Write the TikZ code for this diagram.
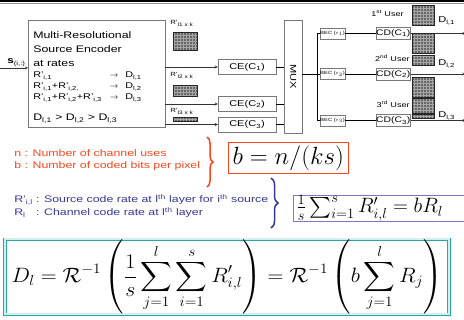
\documentclass[tikz,border=0pt]{standalone}
\usepackage[no-math]{fontspec}
\setmainfont{Liberation Sans}[FakeStretch=1.3]
\usepackage{amsmath}
\usepackage{graphicx}
\usepackage{tikz}
\usetikzlibrary{arrows,shapes,positioning,patterns,decorations.pathreplacing}
\usepackage{xcolor}
\definecolor{mrgray}{RGB}{120,120,120}
\definecolor{mrred}{RGB}{250,70,30}
\definecolor{mrblue}{RGB}{55,55,150}
\definecolor{mrlavender}{RGB}{120,120,200}
\definecolor{mrteal}{RGB}{40,165,165}
\tikzstyle{arrow} = [thin,->,>=stealth,color=black!80]
\tikzstyle{blockbox} = [rectangle, draw=mrgray, fill=white, inner sep=0pt, thin]
\tikzstyle{layerimg} = [rectangle, draw=black!85, inner sep=0pt, preaction={fill=black!60}, pattern=grid, pattern color=black!35]

\begin{document}
\begin{tikzpicture}[x=1pt, y=-1pt, line width=0.6pt]
\useasboundingbox (0,0) rectangle (464,320);

% top rule
\draw[line width=2pt] (0,1) -- (464,1);
\draw[black!45] (0,3.5) -- (464,3.5);

% source encoder
\node[blockbox, minimum width=137pt, minimum height=107pt, anchor=north west] (enc) at (28,20) {};
\node[anchor=north west, align=left, inner sep=0pt, font=\fontsize{9.5}{13.8}\selectfont] (enctitle) at (33,31.7) {Multi-Resolutional\\Source Encoder\\at rates};
\node[anchor=base west, inner sep=0pt, font=\fontsize{8.3}{11}\selectfont] (rates) at (33,78) {%
\begin{tabular}[t]{@{}l@{\hspace{8pt}}l@{\hspace{7pt}}l@{}}
R'\textsubscript{i,1} & $\rightarrow$ & D\textsubscript{l,1}\\
R'\textsubscript{i,1}+R'\textsubscript{i,2,} & $\rightarrow$ & D\textsubscript{l,2}\\
R'\textsubscript{i,1}+R'\textsubscript{i,2}+R'\textsubscript{i,3} & $\rightarrow$ & D\textsubscript{l,3}
\end{tabular}};
\node[anchor=base west, inner sep=0pt, font=\fontsize{9.5}{11}\selectfont] (order) at (33,121) {D\textsubscript{l,1} > D\textsubscript{l,2} > D\textsubscript{l,3}};

\coordinate (src) at (0,68);
\node[anchor=base west, inner sep=0pt, font=\fontsize{9}{11}\selectfont] (srclab) at (7,64) {\textbf{s}\textsubscript{(i,:)}};
\draw[arrow] (src) -- (src -| enc.west);

% layers leaving the encoder
\node[anchor=base west, inner sep=0pt, font=\fontsize{6}{7}\selectfont] (lab1) at (170,25) {R'\textsubscript{l1 x k}};
\node[layerimg, minimum width=24pt, minimum height=18pt, anchor=north west] (img1) at (173,32) {};
\node[anchor=base west, inner sep=0pt, font=\fontsize{6}{7}\selectfont] (lab2) at (170,77) {R'\textsubscript{l2 x k}};
\node[layerimg, minimum width=24pt, minimum height=11pt, anchor=north west] (img2) at (173,85) {};
\node[anchor=base west, inner sep=0pt, font=\fontsize{6}{7}\selectfont] (lab3) at (170,113) {R'\textsubscript{l3 x k}};
\node[layerimg, minimum width=24pt, minimum height=4pt, anchor=north west] (img3) at (173,117) {};

\node[blockbox, minimum width=58pt, minimum height=15pt, font=\fontsize{8.5}{10}\selectfont] (ce1) at (247,67) {CE(C\textsubscript{1})};
\node[blockbox, minimum width=58pt, minimum height=15pt, font=\fontsize{8.5}{10}\selectfont] (ce2) at (247,104) {CE(C\textsubscript{2})};
\node[blockbox, minimum width=58pt, minimum height=15pt, font=\fontsize{8.5}{10}\selectfont] (ce3) at (247,124.5) {CE(C\textsubscript{3})};
\draw[arrow] (enc.east |- ce1) -- (ce1);
\draw[arrow] (enc.east |- ce2) -- (ce2);
\draw[arrow] (enc.east |- ce3) -- (ce3);

% multiplexer and channels
\node[blockbox, minimum width=18pt, minimum height=113pt, anchor=north west] (mux) at (284,20) {};
\node[rotate=-90, inner sep=0pt, font=\fontsize{8.5}{10}\selectfont] (muxlab) at (mux) {MUX};
\draw (ce1) -- (ce1 -| mux.west);
\draw (ce2) -- (ce2 -| mux.west);
\draw (ce3) -- (ce3 -| mux.west);

\node[blockbox, minimum width=19pt, minimum height=11pt, font=\fontsize{4.5}{5}\selectfont] (bec1) at (332.5,33.5) {BEC ($\epsilon_1$)};
\node[blockbox, minimum width=19pt, minimum height=11pt, font=\fontsize{4.5}{5}\selectfont] (bec2) at (332.5,74) {BEC ($\epsilon_2$)};
\node[blockbox, minimum width=19pt, minimum height=11pt, font=\fontsize{4.5}{5}\selectfont] (bec3) at (332.5,120.5) {BEC ($\epsilon_3$)};
\coordinate (fork) at (317,74);
\draw (mux.east |- fork) -- (fork);
\draw (fork) |- (bec1);
\draw (fork) -- (bec2);
\draw (fork) |- (bec3);

\node[blockbox, minimum width=34pt, minimum height=12pt, right=31pt of bec1, font=\fontsize{8}{10}\selectfont] (cd1) {CD(C\textsubscript{1})};
\node[blockbox, minimum width=34pt, minimum height=12pt, right=31pt of bec2, font=\fontsize{8}{10}\selectfont] (cd2) {CD(C\textsubscript{2})};
\node[blockbox, minimum width=34pt, minimum height=12pt, right=31pt of bec3, font=\fontsize{8}{10}\selectfont] (cd3) {CD(C\textsubscript{3})};
\draw (bec1) -- (cd1);
\draw (bec2) -- (cd2);
\draw (bec3) -- (cd3);
\coordinate[right=55pt of cd1] (out1);
\coordinate[right=55pt of cd2] (out2);
\coordinate[right=55pt of cd3] (out3);
\draw[arrow] (cd1) -- (out1);
\draw[arrow] (cd2) -- (out2);
\draw[arrow] (cd3) -- (out3);

% decoded images per user
\node[layerimg, minimum width=22pt, minimum height=20pt, anchor=north west] (u1a) at (412,5) {};
\node[layerimg, minimum width=22pt, minimum height=20pt, anchor=north west] (u2a) at (412,33) {};
\node[layerimg, minimum width=22pt, minimum height=10pt, anchor=north west] (u2b) at (412,55) {};
\node[layerimg, minimum width=22pt, minimum height=20pt, anchor=north west] (u3a) at (412,77) {};
\node[layerimg, minimum width=22pt, minimum height=15pt, anchor=north west] (u3b) at (412,98) {};
\node[layerimg, minimum width=22pt, minimum height=4pt, anchor=north west] (u3c) at (412,114) {};

\node[anchor=base east, inner sep=0pt, font=\fontsize{7}{8}\selectfont] (user1) at (404,16.5) {1\textsuperscript{st} User};
\node[anchor=base east, inner sep=0pt, font=\fontsize{7}{8}\selectfont] (user2) at (410,61.5) {2\textsuperscript{nd} User};
\node[anchor=base east, inner sep=0pt, font=\fontsize{7}{8}\selectfont] (user3) at (410,107.5) {3\textsuperscript{rd} User};
\node[anchor=base west, inner sep=0pt, font=\fontsize{8.5}{10}\selectfont] (dl1) at (438,23) {D\textsubscript{l,1}};
\node[anchor=base west, inner sep=0pt, font=\fontsize{8.5}{10}\selectfont] (dl2) at (438,66) {D\textsubscript{l,2}};
\node[anchor=base west, inner sep=0pt, font=\fontsize{8.5}{10}\selectfont] (dl3) at (438,118) {D\textsubscript{l,3}};

% definitions and relations
\node[anchor=north west, align=left, inner sep=0pt, text=mrred, font=\fontsize{9.5}{12.8}\selectfont] (chantxt) at (14,149) {n : Number of channel uses\\b : Number of coded bits per pixel};
\draw[mrred, line width=1.5pt, decorate, decoration={brace, amplitude=6pt}] (207,137) -- (207,187);
\node[draw=mrred, fill=white, minimum width=120pt, minimum height=31pt, anchor=north west, inner sep=0pt] (bbox) at (228,142) {\fontsize{24}{28}\selectfont $b = n/(ks)$};

\node[anchor=base west, inner sep=0pt, text=mrblue, font=\fontsize{9.5}{13}\selectfont] (ratetxt) at (14,203) {%
\begin{tabular}[t]{@{}l@{ }l@{}}
R'\textsubscript{i,l} & : Source code rate at l\textsuperscript{th} layer for i\textsuperscript{th} source\\
R\textsubscript{l} & : Channel code rate at l\textsuperscript{th} layer
\end{tabular}};
\draw[mrblue, line width=1.5pt, decorate, decoration={brace, amplitude=7pt}] (271,178) -- (271,228);
\node[draw=mrlavender, line width=1pt, fill=white, minimum height=25pt, text width=190pt, align=left, inner xsep=3pt, inner ysep=0pt, anchor=north west] (ratebox) at (293,195) {\fontsize{22}{26}\selectfont $\frac{1}{s}\sum_{i=1}^{s} R'_{i,l} = bR_l$};

\node[draw=mrteal, line width=0.9pt, double=mrteal!20, double distance=2pt, fill=white, minimum width=444pt, minimum height=75pt, anchor=north west, inner sep=0pt] (distbox) at (4.5,239) {\scalebox{1.06}[1]{\fontsize{21}{25}\selectfont $\displaystyle D_l = \mathcal{R}^{-1}\left(\frac{1}{s}\sum_{j=1}^{l}\sum_{i=1}^{s} R'_{i,l}\right) = \mathcal{R}^{-1}\left(b\sum_{j=1}^{l} R_j\right)$}};
\end{tikzpicture}
\end{document}
